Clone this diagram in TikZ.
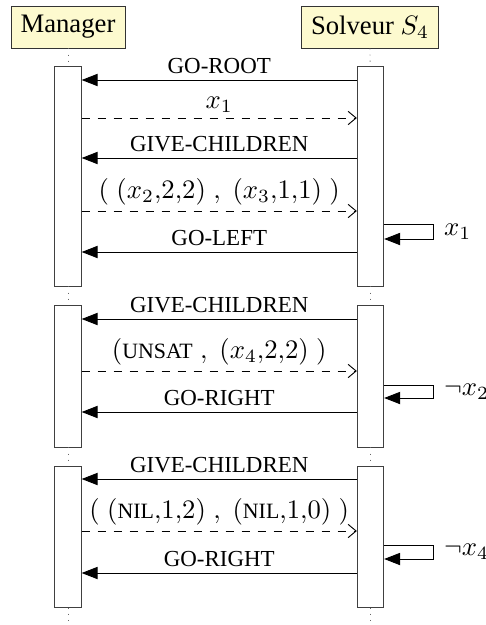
\documentclass[tikz,border=0pt]{standalone}
\usepackage{fontspec}
\setmainfont{Liberation Serif}
\usetikzlibrary{arrows.meta}
\definecolor{headfill}{HTML}{FDFACF}
\newcommand{\msgtxt}[1]{{\fontsize{8.6}{10}\selectfont #1}}
\newcommand{\cst}[1]{\mbox{\fontsize{8.2}{9}\selectfont #1}}

\begin{document}
\begin{tikzpicture}[x=0.375pt,y=-0.375pt,line width=0.35pt,
  head/.style={draw=black!80,fill=headfill,minimum height=15.75pt,inner xsep=3.6pt,inner ysep=2pt},
  act/.style={draw=black!75,fill=white,minimum width=9.9pt,inner sep=0pt},
  life/.style={dotted,black!60,line width=0.3pt},
  call/.style={-{Triangle[length=6pt,width=4.6pt]}},
  reply/.style={dashed,-{Straight Barb[length=3pt,width=5pt]}},
  lbl/.style={midway,above,inner sep=2pt}]
  \useasboundingbox (0,0) rectangle (485,625);
  % participants
  \node[head] (man) at (68,27) {Manager};
  \node[head] (sol) at (370,27) {Solveur $S_4$};
  % activations
  \node[act,minimum height=82.5pt] (ma1) at (68,176) {};
  \node[act,minimum height=53.25pt] (ma2) at (68,376) {};
  \node[act,minimum height=52.9pt] (ma3) at (68,536.5) {};
  \node[act,minimum height=82.5pt] (sa1) at (370.5,176) {};
  \node[act,minimum height=53.25pt] (sa2) at (370.5,376) {};
  \node[act,minimum height=52.9pt] (sa3) at (370.5,536.5) {};
  % lifelines
  \draw[life] (man) -- (ma1);
  \draw[life] (ma1) -- (ma2);
  \draw[life] (ma2) -- (ma3);
  \draw[life] (ma3) -- (ma3.south |- 0,625);
  \draw[life] (sol) -- (sa1);
  \draw[life] (sa1) -- (sa2);
  \draw[life] (sa2) -- (sa3);
  \draw[life] (sa3) -- (sa3.south |- 0,625);
  % first block
  \draw[call] (sa1.west |- 0,80) -- (ma1.east |- 0,80) node[lbl] {\msgtxt{GO-ROOT}};
  \draw[reply] (ma1.east |- 0,118) -- (sa1.west |- 0,118) node[lbl] {$x_1$};
  \draw[call] (sa1.west |- 0,158) -- (ma1.east |- 0,158) node[lbl] {\msgtxt{GIVE-CHILDREN}};
  \draw[reply] (ma1.east |- 0,211) -- (sa1.west |- 0,211)
    node[lbl] {$(\;(x_2{,}2{,}2)\;,\;(x_3{,}1{,}1)\;)$};
  \draw[call] (sa1.east |- 0,224) -- (433,224) -- node[right,inner sep=4pt] {$x_1$} (433,239) -- (sa1.east |- 0,239);
  \draw[call] (sa1.west |- 0,252) -- (ma1.east |- 0,252) node[lbl] {\msgtxt{GO-LEFT}};
  % second block
  \draw[call] (sa2.west |- 0,319) -- (ma2.east |- 0,319) node[lbl] {\msgtxt{GIVE-CHILDREN}};
  \draw[reply] (ma2.east |- 0,371) -- (sa2.west |- 0,371)
    node[lbl] {$(\cst{UNSAT}\;,\;(x_4{,}2{,}2)\;)$};
  \draw[call] (sa2.east |- 0,385) -- (433,385) -- node[right,inner sep=4pt] {$\neg x_2$} (433,398) -- (sa2.east |- 0,398);
  \draw[call] (sa2.west |- 0,412) -- (ma2.east |- 0,412) node[lbl] {\msgtxt{GO-RIGHT}};
  % third block
  \draw[call] (sa3.west |- 0,479) -- (ma3.east |- 0,479) node[lbl] {\msgtxt{GIVE-CHILDREN}};
  \draw[reply] (ma3.east |- 0,531) -- (sa3.west |- 0,531)
    node[lbl] {$(\;(\cst{NIL}{,}1{,}2)\;,\;(\cst{NIL}{,}1{,}0)\;)$};
  \draw[call] (sa3.east |- 0,545) -- (433,545) -- node[right,inner sep=4pt] {$\neg x_4$} (433,559) -- (sa3.east |- 0,559);
  \draw[call] (sa3.west |- 0,573) -- (ma3.east |- 0,573) node[lbl] {\msgtxt{GO-RIGHT}};
\end{tikzpicture}
\end{document}
